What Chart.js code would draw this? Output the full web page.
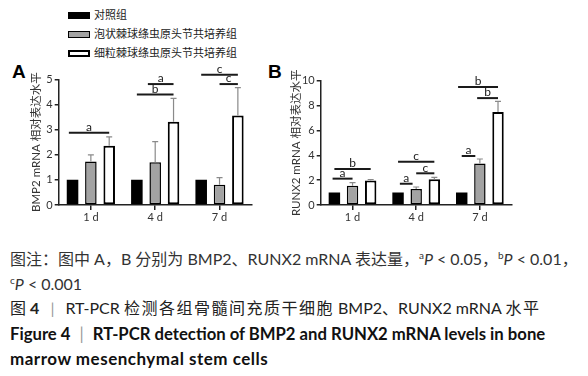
<!DOCTYPE html>
<html>
<head>
<meta charset="utf-8">
<script src="https://cdn.jsdelivr.net/npm/chart.js@4.4.1/dist/chart.umd.min.js"></script>
<style>
  body { margin: 0; background: #fff; width: 588px; height: 376px; overflow: hidden; position: relative;
         font-family: Lato, "Noto Sans CJK SC", sans-serif; }
  .box { position: absolute; }
  #legend { position: absolute; left: 68px; top: 5px; font: 11px "Noto Sans CJK SC", sans-serif; color: #222; }
  #legend div { height: 19px; line-height: 19px; white-space: nowrap; }
  #legend span { display: inline-block; width: 22px; height: 7px; box-sizing: border-box; margin-right: 4px; }
  .panel { position: absolute; font: bold 19px "Liberation Sans", Arial, sans-serif; color: #000; line-height: 20px; }
  .cap { position: absolute; left: 10px; white-space: nowrap; font-size: 16px; line-height: 20px; color: #333; }
  .cap b { font-weight: bold; }
  .bold { font-weight: bold; color: #111; font-size: 17px; }
  .sep { color: #999; font-weight: normal; margin: 0 11px; }
  sup { font-size: 10px; vertical-align: 6px; line-height: 0; }
</style>
</head>
<body>
<div id="legend"></div>
<div class="panel" style="left:12px;top:62px;">A</div>
<div class="panel" style="left:268px;top:62px;">B</div>
<div class="box" style="left:0;top:50px;width:262px;height:180px;"><canvas id="chartA"></canvas></div>
<div class="box" style="left:262px;top:50px;width:264px;height:180px;"><canvas id="chartB"></canvas></div>

<div class="cap" style="top:249px;">图注：图中 A，B 分别为 BMP2、RUNX2 mRNA 表达量，<sup>a</sup><i>P</i> &lt; 0.05，<sup>b</sup><i>P</i> &lt; 0.01，</div>
<div class="cap" style="top:274px;"><sup>c</sup><i>P</i> &lt; 0.001</div>
<div class="cap" style="top:298px;color:#222;">图 <b>4</b><span class="sep">|</span>RT-PCR <span style="letter-spacing:1.5px">检测各组骨髓间充质干细胞</span> BMP2、RUNX2 mRNA <span style="letter-spacing:1.5px">水平</span></div>
<div class="cap bold" style="top:324px;font-size:16.7px;">Figure 4<span class="sep" style="margin:0 9px">|</span>RT-PCR detection of BMP2 and RUNX2 mRNA levels in bone</div>
<div class="cap bold" style="top:349px;letter-spacing:0.5px;">marrow mesenchymal stem cells</div>

<script>
// categories and groups
const days = ['1 d', '4 d', '7 d'];
const groups = ['对照组', '泡状棘球绦虫原头节共培养组', '细粒棘球绦虫原头节共培养组'];

// BMP2 relative expression (mean + upper error)
const bmp2Control = [1, 1, 1];
const bmp2Alveolar = [1.73, 1.70, 0.81];
const bmp2Granular = [2.36, 3.31, 3.56];
const bmp2AlveolarErr = [0.26, 0.82, 0.28];
const bmp2GranularErr = [0.35, 0.93, 1.11];

// RUNX2 relative expression
const runx2Control = [1, 1, 1];
const runx2Alveolar = [1.55, 1.29, 3.33];
const runx2Granular = [1.97, 2.08, 7.48];
const runx2AlveolarErr = [0.25, 0.16, 0.37];
const runx2GranularErr = [0.08, 0.15, 0.86];

// significance brackets: day index, from/to bar index, height, letter
const bmp2Sig = [
  { day: 0, from: -0.2, to: 2, y: 2.87, label: 'a' },
  { day: 1, from: 0.6, to: 2, y: 4.81, label: 'a' },
  { day: 1, from: 0, to: 2, y: 4.40, label: 'b' },
  { day: 2, from: 0, to: 2, y: 5.18, label: 'c' },
  { day: 2, from: 1, to: 2, y: 4.81, label: 'c' }
];
const runx2Sig = [
  { day: 0, from: 0, to: 2, y: 2.90, label: 'b' },
  { day: 0, from: -0.1, to: 1, y: 2.12, label: 'a' },
  { day: 1, from: 0, to: 2, y: 3.48, label: 'c' },
  { day: 1, from: 1, to: 2, y: 2.55, label: 'c' },
  { day: 1, from: 0.1, to: 0.8, y: 1.71, label: 'a' },
  { day: 2, from: 0, to: 0.75, y: 3.94, label: 'a' },
  { day: 2, from: -0.2, to: 2, y: 9.50, label: 'b' },
  { day: 2, from: 0.85, to: 2, y: 8.60, label: 'b' }
];

const fills = ['#000000', '#a3a3a3', '#ffffff'];
const borders = [0, 1.5, 2];

// legend
const legend = document.getElementById('legend');
groups.forEach((g, i) => {
  const row = document.createElement('div');
  const sw = document.createElement('span');
  sw.style.background = fills[i];
  sw.style.border = i === 0 ? 'none' : borders[i] + 'px solid #000';
  row.appendChild(sw);
  row.appendChild(document.createTextNode(g));
  legend.appendChild(row);
});

const fontFamily = 'Lato, "Noto Sans CJK SC", sans-serif';

// error bars + significance lines
const extrasPlugin = {
  id: 'extras',
  afterDatasetsDraw(chart, args, opts) {
    const ctx = chart.ctx;
    const y = chart.scales.y;
    ctx.save();
    // error bars
    chart.data.datasets.forEach((ds, di) => {
      if (!ds.err) return;
      const meta = chart.getDatasetMeta(di);
      meta.data.forEach((bar, i) => {
        const top = y.getPixelForValue(ds.data[i] + ds.err[i]);
        ctx.strokeStyle = '#8a8a8a';
        ctx.lineWidth = 1.2;
        ctx.beginPath();
        ctx.moveTo(bar.x, bar.y);
        ctx.lineTo(bar.x, top);
        ctx.moveTo(bar.x - 3, top);
        ctx.lineTo(bar.x + 3, top);
        ctx.stroke();
      });
    });
    // significance brackets
    const m0 = chart.getDatasetMeta(0), m1 = chart.getDatasetMeta(1);
    opts.sig.forEach(s => {
      const c0 = m0.data[s.day].x;
      const step = m1.data[s.day].x - c0;
      const x1 = c0 + s.from * step, x2 = c0 + s.to * step;
      const py = y.getPixelForValue(s.y);
      ctx.strokeStyle = '#1a1a1a';
      ctx.lineWidth = 2;
      ctx.beginPath();
      ctx.moveTo(x1, py);
      ctx.lineTo(x2, py);
      ctx.stroke();
      ctx.fillStyle = '#1a1a1a';
      ctx.font = '12px ' + fontFamily;
      ctx.textAlign = 'center';
      ctx.textBaseline = 'bottom';
      ctx.fillText(s.label, (x1 + x2) / 2, py + 0.5);
    });
    ctx.restore();
  }
};

function makeChart(id, series, errs, yMax, step, title, sig, padTop, padRight, titlePad) {
  return new Chart(document.getElementById(id), {
    type: 'bar',
    data: {
      labels: days,
      datasets: series.map((d, i) => ({
        label: groups[i],
        data: d,
        err: errs[i],
        backgroundColor: fills[i],
        borderColor: '#000',
        borderWidth: borders[i],
        borderSkipped: false,
        categoryPercentage: 0.855,
        barPercentage: 0.63
      }))
    },
    options: {
      responsive: true,
      maintainAspectRatio: false,
      animation: false,
      layout: { padding: { top: padTop, right: padRight, left: 0, bottom: 0 } },
      plugins: {
        legend: { display: false },
        tooltip: { enabled: false },
        extras: { sig: sig }
      },
      scales: {
        x: {
          grid: { offset: false, drawOnChartArea: false, drawTicks: true, tickLength: 5, color: '#222', lineWidth: 1.5 },
          border: { display: true, color: '#222', width: 1.5 },
          ticks: { color: '#333', font: { size: 11, family: fontFamily }, padding: 1 },
          afterFit(scale) { scale.height = 25; }
        },
        y: {
          min: 0,
          max: yMax,
          grid: { drawOnChartArea: false, drawTicks: true, tickLength: 4, color: '#222', lineWidth: 1.5 },
          border: { display: true, color: '#222', width: 1.5 },
          ticks: { stepSize: step, color: '#333', font: { size: 11, family: fontFamily }, padding: 2 },
          title: { display: true, text: title, color: '#333', font: { size: 11.5, family: fontFamily }, padding: { top: titlePad, bottom: 0 } },
          afterFit(scale) { scale.width = 58.7; }
        }
      }
    },
    plugins: [extrasPlugin]
  });
}

makeChart('chartA',
  [bmp2Control, bmp2Alveolar, bmp2Granular],
  [null, bmp2AlveolarErr, bmp2GranularErr],
  5, 1, 'BMP2 mRNA 相对表达水平', bmp2Sig, 29.3, 10.3, 29);

makeChart('chartB',
  [runx2Control, runx2Alveolar, runx2Granular],
  [null, runx2AlveolarErr, runx2GranularErr],
  10, 2, 'RUNX2 mRNA 相对表达水平', runx2Sig, 30.7, 14.3, 27);
</script>
</body>
</html>
